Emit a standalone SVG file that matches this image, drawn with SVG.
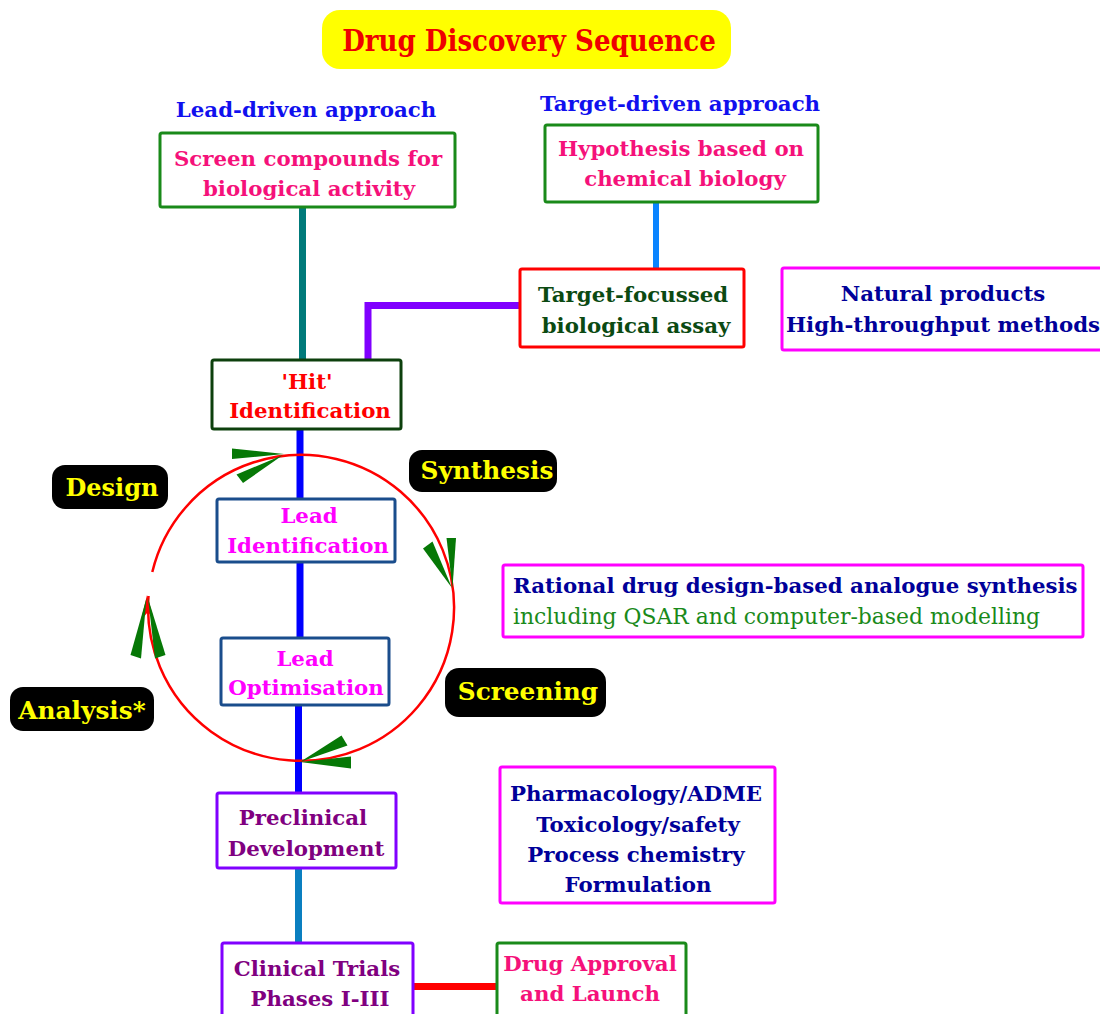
<svg xmlns="http://www.w3.org/2000/svg" width="1100" height="1014" viewBox="0 0 1100 1014">
  <style>
    text { font-family: "DejaVu Serif", serif; font-weight: bold; }
    .c { text-anchor: middle; }
    .box { fill: #ffffff; stroke-width: 3; }
    .pill { fill: #000000; }
    .pillt { fill: #ffff00; font-size: 24.8px; }
    .t22 { font-size: 21.3px; }
    .reg { font-weight: normal; font-size: 21.9px; }
    .head { font-family: "DejaVu Serif Condensed", "DejaVu Serif", serif; font-stretch: condensed; font-size: 29px; }
    .leg { fill: #067806; }
    .wire { fill: none; stroke-linecap: butt; }
  </style>

  <rect width="1100" height="1014" fill="#ffffff"/>

  <!-- title -->
  <g id="title">
    <rect x="322" y="10" width="409" height="59" rx="18" fill="#ffff00"/>
    <text class="c head" x="529" y="51" fill="#ee0000">Drug Discovery Sequence</text>
  </g>

  <g id="labels">
    <text class="c t22" x="306" y="117" fill="#1010ee">Lead-driven approach</text>
    <text class="c t22" x="680" y="111" fill="#1010ee">Target-driven approach</text>
  </g>

  <!-- connectors -->
  <g id="connectors">
    <line class="wire" x1="302.5" y1="207" x2="302.5" y2="360" stroke="#007a7a" stroke-width="7"/>
    <line class="wire" x1="656" y1="202" x2="656" y2="269" stroke="#0a84ff" stroke-width="6"/>
    <polyline class="wire" points="520,305.5 368,305.5 368,360" stroke="#8000ff" stroke-width="7"/>
    <line class="wire" x1="300" y1="429" x2="300" y2="499" stroke="#0000ff" stroke-width="7"/>
    <line class="wire" x1="300" y1="562" x2="300" y2="638" stroke="#0000ff" stroke-width="7"/>
    <line class="wire" x1="298.5" y1="705" x2="298.5" y2="793" stroke="#0000ff" stroke-width="7"/>
    <line class="wire" x1="298.5" y1="868" x2="298.5" y2="943" stroke="#0a7fc0" stroke-width="7"/>
    <line class="wire" x1="413" y1="986.5" x2="497" y2="986.5" stroke="#ff0000" stroke-width="7"/>
  </g>

  <!-- cycle ring with its four chevrons -->
  <g id="cycle">
    <path d="M152.3,572 A153,153 0 1 1 148.5,596" fill="none" stroke="#ff0000" stroke-width="2.5"/>
    <polygon points="147,595 154,620 148,612 141,620" fill="#ff0000"/>
    <polygon class="leg" points="232,448.5 232,459 284,454"/>
    <polygon class="leg" points="236.5,474.5 243,483 283,455"/>
    <polygon class="leg" points="446.5,538 456,538 452.5,588"/>
    <polygon class="leg" points="423,548.5 432.5,541.5 452,588"/>
    <polygon class="leg" points="341.5,735.5 347.5,745.5 300,762"/>
    <polygon class="leg" points="351,756.5 351,768.5 300,762"/>
    <polygon class="leg" points="130.5,655 141,658.5 146.5,598"/>
    <polygon class="leg" points="155,658.5 165.5,655 148,598"/>
  </g>

  <g id="screen">
    <rect class="box" x="160" y="133" width="295" height="74" rx="2" stroke="#1a8a1a"/>
    <text class="c t22" x="308" y="166" fill="#f5117a">Screen compounds for</text>
    <text class="c t22" x="309" y="196" fill="#f5117a">biological activity</text>
  </g>

  <g id="hypothesis">
    <rect class="box" x="545" y="125" width="273" height="77" rx="2" stroke="#1a8a1a"/>
    <text class="c t22" x="681" y="156" fill="#f5117a">Hypothesis based on</text>
    <text class="c t22" x="685" y="186" fill="#f5117a">chemical biology</text>
  </g>

  <g id="assay">
    <rect class="box" x="520" y="269" width="224" height="78" rx="2" stroke="#ff0000"/>
    <text class="c t22" x="633" y="302" fill="#0b4a12">Target-focussed</text>
    <text class="c t22" x="636" y="333" fill="#0b4a12">biological assay</text>
  </g>

  <g id="sources">
    <rect class="box" x="782" y="268" width="330" height="82" rx="2" stroke="#ff00ff"/>
    <text class="c t22" x="943" y="301" fill="#000099">Natural products</text>
    <text class="c t22" x="943" y="332" fill="#000099">High-throughput methods</text>
  </g>

  <g id="hit">
    <rect class="box" x="212" y="360" width="189" height="69" rx="2" stroke="#0d400d"/>
    <text class="c t22" x="307" y="389" fill="#ff0000">'Hit'</text>
    <text class="c t22" x="310" y="418" fill="#ff0000">Identification</text>
  </g>

  <g id="lead-id">
    <rect class="box" x="217" y="499" width="178" height="63" rx="2" stroke="#1a4d8c"/>
    <text class="c t22" x="309" y="523" fill="#ff00ff">Lead</text>
    <text class="c t22" x="308" y="553" fill="#ff00ff">Identification</text>
  </g>

  <g id="lead-opt">
    <rect class="box" x="221" y="638" width="168" height="67" rx="2" stroke="#1a4d8c"/>
    <text class="c t22" x="305" y="666" fill="#ff00ff">Lead</text>
    <text class="c t22" x="306" y="695" fill="#ff00ff">Optimisation</text>
  </g>

  <g id="rational">
    <rect class="box" x="503" y="565" width="580" height="72" rx="2" stroke="#ff00ff"/>
    <text class="t22" x="513" y="593" fill="#000099">Rational drug design-based analogue synthesis</text>
    <text class="reg" x="513" y="624" fill="#1a8a1a">including QSAR and computer-based modelling</text>
  </g>

  <g id="design">
    <rect class="pill" x="52" y="465" width="116" height="44" rx="13"/>
    <text class="c pillt" x="112" y="496" style="font-size:24px">Design</text>
  </g>

  <g id="synthesis">
    <rect class="pill" x="409" y="450" width="148" height="42" rx="13"/>
    <text class="c pillt" x="487" y="479">Synthesis</text>
  </g>

  <g id="screening">
    <rect class="pill" x="445" y="668" width="161" height="49" rx="14"/>
    <text class="c pillt" x="528" y="700">Screening</text>
  </g>

  <g id="analysis">
    <rect class="pill" x="10" y="687" width="144" height="44" rx="13"/>
    <text class="c pillt" x="82" y="719">Analysis*</text>
  </g>

  <g id="preclinical">
    <rect class="box" x="217" y="793" width="179" height="75" rx="2" stroke="#8000ff"/>
    <text class="c t22" x="303" y="825" fill="#800080">Preclinical</text>
    <text class="c t22" x="306" y="856" fill="#800080">Development</text>
  </g>

  <g id="studies">
    <rect class="box" x="500" y="767" width="275" height="136" rx="2" stroke="#ff00ff"/>
    <text class="c t22" x="636" y="801" fill="#000099">Pharmacology/ADME</text>
    <text class="c t22" x="638" y="832" fill="#000099">Toxicology/safety</text>
    <text class="c t22" x="636" y="862" fill="#000099">Process chemistry</text>
    <text class="c t22" x="638" y="892" fill="#000099">Formulation</text>
  </g>

  <g id="clinical">
    <rect class="box" x="222" y="943" width="191" height="80" rx="2" stroke="#8000ff"/>
    <text class="c t22" x="317" y="976" fill="#800080">Clinical Trials</text>
    <text class="c t22" x="320" y="1006" fill="#800080">Phases I-III</text>
  </g>

  <g id="approval">
    <rect class="box" x="497" y="943" width="189" height="80" rx="2" stroke="#1a8a1a"/>
    <text class="c t22" x="590" y="971" fill="#f5117a">Drug Approval</text>
    <text class="c t22" x="590" y="1001" fill="#f5117a">and Launch</text>
  </g>
</svg>
